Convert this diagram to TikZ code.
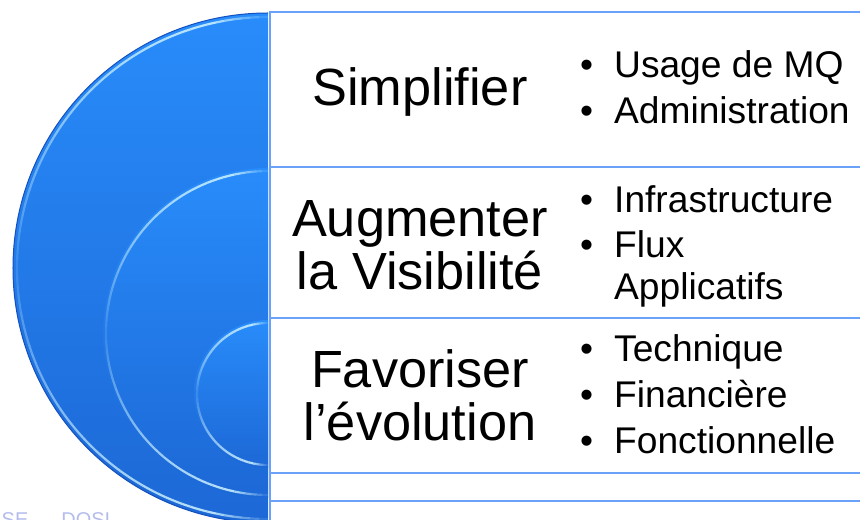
\documentclass[tikz,border=0pt]{standalone}
\usepackage{fontspec}
\setmainfont{Liberation Sans}
\definecolor{diskTop}{RGB}{40,140,250}
\definecolor{diskBot}{RGB}{28,104,214}
\definecolor{frameblue}{RGB}{105,162,248}
\definecolor{hilite}{RGB}{205,242,255}
\definecolor{edgeblue}{RGB}{20,80,190}
\definecolor{footer}{RGB}{180,188,235}
\newcommand\bul{\makebox[34bp][l]{•}}
\newcommand\shinearc[3]{% center x, center y, radius
  \foreach \a in {90,92,...,268}{%
    \pgfmathsetmacro\op{(0.12+0.78*abs(sin(\a+1)))*min(1,min((\a-88)/14,(270-\a)/14))}%
    \draw[draw=hilite,line width=2.2bp,opacity=\op]
      ([shift={(\a:#3 bp)}]#1bp,-#2bp) arc[start angle=\a,end angle=\a+2,radius=#3 bp];
  }}
\tikzset{
  disk/.style={top color=diskTop,bottom color=diskBot},
  rowbox/.style={draw=frameblue,line width=1.5bp},
  title/.style={font=\fontsize{52.5}{55}\selectfont,inner sep=0pt,anchor=base},
  item/.style={font=\fontsize{37.3}{40}\selectfont,inner sep=0pt,anchor=base west},
}
\begin{document}
\begin{tikzpicture}[x=1bp,y=-1bp]
\useasboundingbox (0,0) rectangle (860,520);
% nested half discs
\shade[disk] (268,13) arc[start angle=90,end angle=270,radius=255bp] -- cycle;
\draw[edgeblue,line width=1bp] (268,13) arc[start angle=90,end angle=270,radius=255bp];
\shinearc{268}{268}{251}
\shade[disk] (268,168) arc[start angle=90,end angle=270,radius=165bp] -- cycle;
\shinearc{268}{333}{162}
\shade[disk] (268,320) arc[start angle=90,end angle=270,radius=74bp] -- cycle;
\shinearc{268}{394}{71}
% row boxes
\draw[rowbox] (270,12) rectangle (880,167);
\draw[rowbox] (270,167) rectangle (880,318);
\draw[rowbox] (270,318) rectangle (880,473);
\draw[rowbox] (270,473) rectangle (880,501);
\draw[rowbox] (270,501) rectangle (880,540);
% footer
\node[anchor=base west,inner sep=0pt,text=footer,font=\fontsize{20}{20}\selectfont] (ft) at (-4,526) {ISE\hspace{8bp}–\hspace{14bp}DOSI};
% titles
\node[title] (s1) at (420,106) {Simplifier};
\node[title] (a1) at (420,237) {Augmenter};
\node[title] (a2) at (420,290) {la Visibilité};
\node[title] (f1) at (420,387) {Favoriser};
\node[title] (f2) at (420,440) {l’évolution};
% items
\node[item] (i1) at (580,78) {\bul Usage de MQ};
\node[item] (i2) at (580,124) {\bul Administration};
\node[item] (i3) at (580,213) {\bul Infrastructure};
\node[item] (i4) at (580,258) {\bul Flux};
\node[item] (i5) at (614,300) {Applicatifs};
\node[item] (i6) at (580,361) {\bul Technique};
\node[item] (i7) at (580,407) {\bul Financière};
\node[item] (i8) at (580,453) {\bul Fonctionnelle};
\end{tikzpicture}
\end{document}
